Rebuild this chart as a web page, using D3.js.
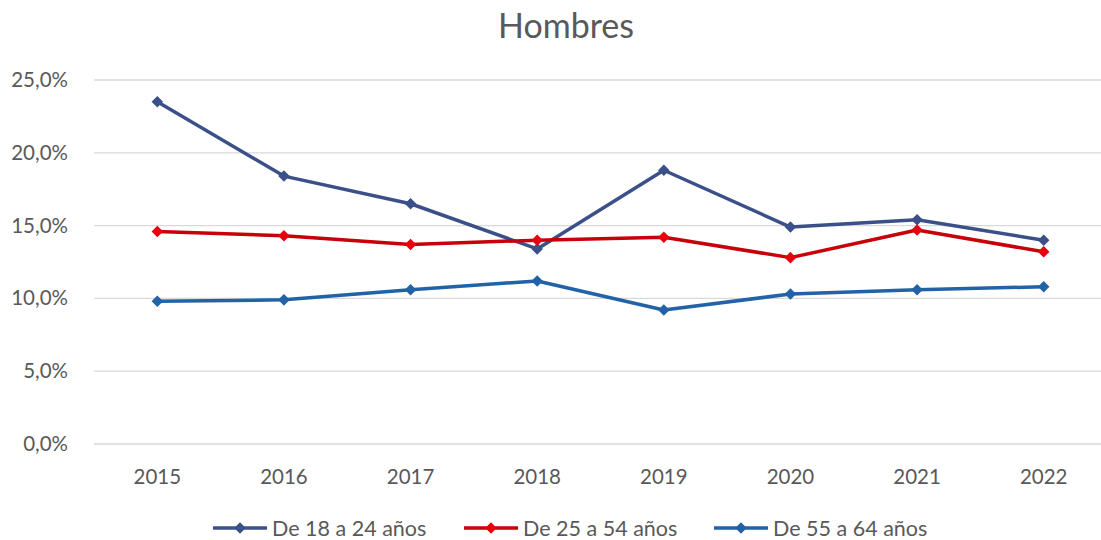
<!DOCTYPE html>
<html>
<head>
<meta charset="utf-8">
<title>Hombres</title>
<style>
  body { margin: 0; background: #fff; }
  svg { display: block; font-family: Lato, 'Open Sans', sans-serif; }
  .grid line { stroke: #d9d9d9; stroke-width: 1.3px; }
  .tick text { fill: #595959; font-size: 20.5px; font-family: Lato, 'Open Sans', sans-serif; }
</style>
</head>
<body>
<div id="chart"></div>
<script src="https://d3js.org/d3.v7.min.js"></script>
<script>

var years   = ["2015", "2016", "2017", "2018", "2019", "2020", "2021", "2022"];
var yTicks  = [0, 5, 10, 15, 20, 25];
var s18a24  = [23.5, 18.4, 16.5, 13.4, 18.8, 14.9, 15.4, 14.0];
var s25a54  = [14.6, 14.3, 13.7, 14.0, 14.2, 12.8, 14.7, 13.2];
var s55a64  = [9.8, 9.9, 10.6, 11.2, 9.2, 10.3, 10.6, 10.8];
var names   = ["De 18 a 24 años", "De 25 a 54 años", "De 55 a 64 años"];

var series = [
  {name: names[0], values: s18a24, line: "#3B5088", mark: "#3B5088"},
  {name: names[1], values: s25a54, line: "#C8000A", mark: "#E8000F"},
  {name: names[2], values: s55a64, line: "#2262A6", mark: "#2262A6"}
];

var W = 1101, H = 540;
var margin = {left: 94, right: -6, top: 80, bottom: 96};

var svg = d3.select("#chart").append("svg")
    .attr("width", W)
    .attr("height", H);

var x = d3.scaleBand()
    .domain(years)
    .range([margin.left, W - margin.right]);

var y = d3.scaleLinear()
    .domain([0, 25])
    .range([H - margin.bottom, margin.top]);

// title
svg.append("text")
    .attr("x", 566)
    .attr("y", 38)
    .attr("text-anchor", "middle")
    .style("font-size", "34px")
    .style("fill", "#595959")
    .text("Hombres");

// gridlines
svg.append("g")
    .attr("class", "grid")
    .selectAll("line")
    .data(yTicks)
    .enter().append("line")
    .attr("x1", margin.left)
    .attr("x2", W - margin.right)
    .attr("y1", function(d){ return y(d); })
    .attr("y2", function(d){ return y(d); });

// y axis labels
var yAxis = svg.append("g")
    .attr("transform", "translate(" + (margin.left - 23) + ",0)")
    .call(d3.axisLeft(y).tickValues(yTicks).tickSize(0)
        .tickFormat(function(d){ return d.toFixed(1).replace(".", ",") + "%"; }));
yAxis.select(".domain").remove();

// x axis labels
var xAxis = svg.append("g")
    .attr("transform", "translate(0," + (H - margin.bottom + 22) + ")")
    .call(d3.axisBottom(x).tickSize(0));
xAxis.select(".domain").remove();

var line = d3.line()
    .x(function(d, i){ return x(years[i]) + x.bandwidth() / 2; })
    .y(function(d){ return y(d); });

var diamond = d3.symbol().type(d3.symbolDiamond2).size(85);

series.forEach(function(s){
  var g = svg.append("g");
  g.append("path")
    .attr("d", line(s.values))
    .attr("fill", "none")
    .attr("stroke", s.line)
    .attr("stroke-width", 3.5)
    .attr("stroke-linejoin", "round");
  g.selectAll("path.m")
    .data(s.values)
    .enter().append("path")
    .attr("class", "m")
    .attr("d", diamond)
    .attr("fill", s.mark)
    .attr("transform", function(d, i){
      return "translate(" + (x(years[i]) + x.bandwidth() / 2) + "," + y(d) + ")";
    });
});

// legend
var legendX = [213, 464, 714];
var legend = svg.append("g").attr("transform", "translate(0,528)");
series.forEach(function(s, i){
  var g = legend.append("g").attr("transform", "translate(" + legendX[i] + ",0)");
  g.append("line")
    .attr("x1", 0).attr("x2", 54)
    .attr("stroke", s.line)
    .attr("stroke-width", 3.5);
  g.append("path")
    .attr("d", diamond)
    .attr("fill", s.mark)
    .attr("transform", "translate(27,0)");
  g.append("text")
    .attr("x", 59)
    .attr("dy", "0.35em")
    .style("font-size", "21.5px")
    .style("fill", "#595959")
    .text(s.name);
});
</script>
</body>
</html>
